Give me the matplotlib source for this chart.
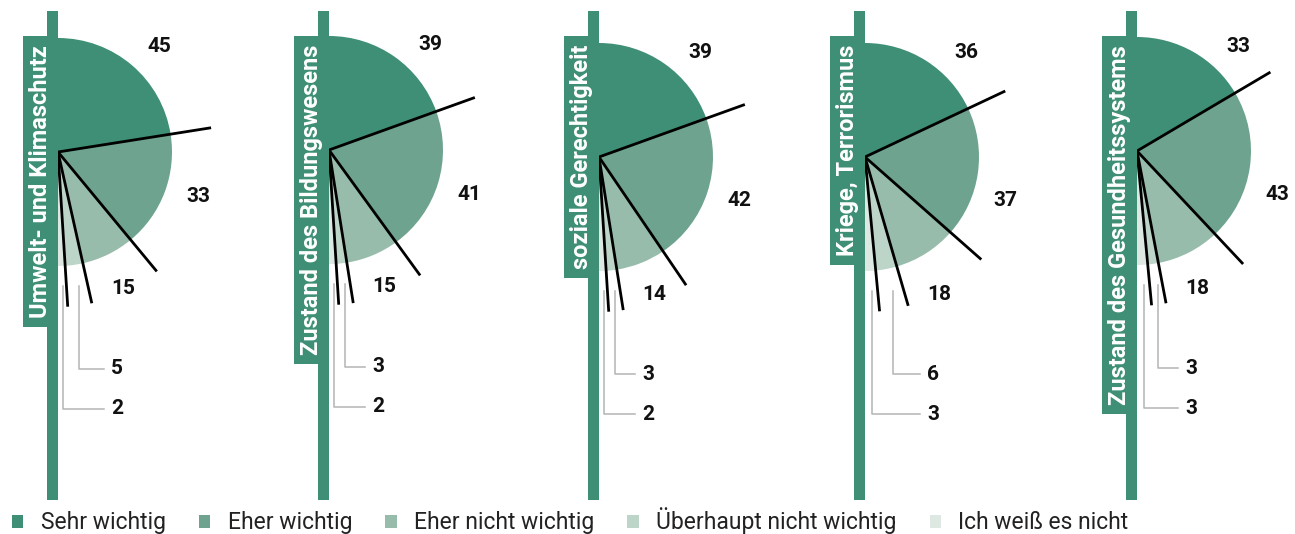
import numpy as np
import matplotlib
matplotlib.use("Agg")
import matplotlib.pyplot as plt
from matplotlib.patches import Wedge, Rectangle, Patch


OUTPUT_PATH = "out.png"

# data (percent)
TOPICS = [
    "Umwelt- und Klimaschutz",
    "Zustand des Bildungswesens",
    "soziale Gerechtigkeit",
    "Kriege, Terrorismus",
    "Zustand des Gesundheitssystems",
]
CATEGORIES = [
    "Sehr wichtig",
    "Eher wichtig",
    "Eher nicht wichtig",
    "Überhaupt nicht wichtig",
    "Ich weiß es nicht",
]
SEHR_WICHTIG = [45, 39, 39, 36, 33]
EHER_WICHTIG = [33, 41, 42, 37, 43]
EHER_NICHT_WICHTIG = [15, 15, 14, 18, 18]
UEBERHAUPT_NICHT = [5, 3, 3, 6, 3]
WEISS_NICHT = [2, 2, 2, 3, 3]

COLORS = ["#3e8f75", "#6ea48f", "#98bcab", "#bdd4c9", "#dee8e3"]
STICK_COLOR = "#3e8f75"

# layout (pixel coordinates)
FIG_W, FIG_H = 1295, 534
CENTERS_X = [58, 329, 599, 865, 1137]
CENTERS_Y = [152, 150, 157, 157, 151]
RADIUS = 114
LINE_LEN = 155

plt.rcParams["font.family"] = ["Roboto", "DejaVu Sans"]


def draw_half_pie(ax, cx, cy, values, topic):
    # stick
    ax.add_patch(Rectangle((cx - 11, 11), 11, 489, color=STICK_COLOR, lw=0, zorder=1))

    total = float(sum(values))
    cum = np.concatenate([[0], np.cumsum(values)]) / total * 180.0 - 90.0

    for i, val in enumerate(values):
        ax.add_patch(Wedge((cx, cy), RADIUS, cum[i], cum[i + 1],
                           color=COLORS[i], lw=0, zorder=2))

    # black separator lines
    for ang in cum[1:-1]:
        a = np.deg2rad(ang)
        ax.plot([cx, cx + LINE_LEN * np.cos(a)], [cy, cy + LINE_LEN * np.sin(a)],
                color="black", lw=2.0, solid_capstyle="butt", zorder=4)

    num_kw = dict(fontsize=15, fontweight="bold", color="#111111", zorder=5)
    ax.text(cx + 101, cy - 105, str(values[0]), ha="center", va="center", **num_kw)
    ax.text(cx + 140, cy + 44, str(values[1]), ha="center", va="center", **num_kw)

    a3 = np.deg2rad(cum[3])
    anchor_x = cx + LINE_LEN * np.cos(a3) + 19
    ax.text(anchor_x, cy + 137, str(values[2]), ha="left", va="center", **num_kw)

    # leader lines for the small values
    for i, label_dy in zip([3, 4], [217, 257]):
        mid = np.deg2rad((cum[i] + cum[i + 1]) / 2)
        lx = cx + 150 * np.cos(mid)
        ax.plot([lx, lx, anchor_x - 7], [cy + 134, cy + label_dy, cy + label_dy],
                color="#b4b4b4", lw=1.1, zorder=3)
        ax.text(anchor_x, cy + label_dy, str(values[i]), ha="left", va="center", **num_kw)

    # topic label box
    t = ax.text(cx - 17.5, 45, topic, rotation=90, ha="center", va="top",
                fontsize=17, fontweight="bold", color="white", zorder=7)
    ax.figure.canvas.draw()
    bb = t.get_window_extent().transformed(ax.transData.inverted())
    bottom = max(bb.y0, bb.y1) + 9
    ax.add_patch(Rectangle((cx - 35, 36), 35, bottom - 36, color=STICK_COLOR, lw=0, zorder=6))


def main():
    fig = plt.figure(figsize=(FIG_W / 100, FIG_H / 100), dpi=100)
    ax = fig.add_axes([0, 0, 1, 1])
    ax.set_xlim(0, FIG_W)
    ax.set_ylim(FIG_H, 0)
    ax.axis("off")

    for k, topic in enumerate(TOPICS):
        values = [SEHR_WICHTIG[k], EHER_WICHTIG[k], EHER_NICHT_WICHTIG[k],
                  UEBERHAUPT_NICHT[k], WEISS_NICHT[k]]
        draw_half_pie(ax, CENTERS_X[k], CENTERS_Y[k], values, topic)

    handles = [Patch(color=c, lw=0) for c in COLORS]
    fig.legend(handles, CATEGORIES, loc="center left",
               bbox_to_anchor=(12 / FIG_W, 1 - 521 / FIG_H), ncol=5,
               frameon=False, fontsize=16.5, handlelength=0.5, handleheight=0.5,
               handletextpad=0.75, columnspacing=1.45, borderpad=0, borderaxespad=0,
               labelcolor="#222222")

    fig.savefig(OUTPUT_PATH, dpi=100)
    plt.close(fig)


if __name__ == "__main__":
    main()
